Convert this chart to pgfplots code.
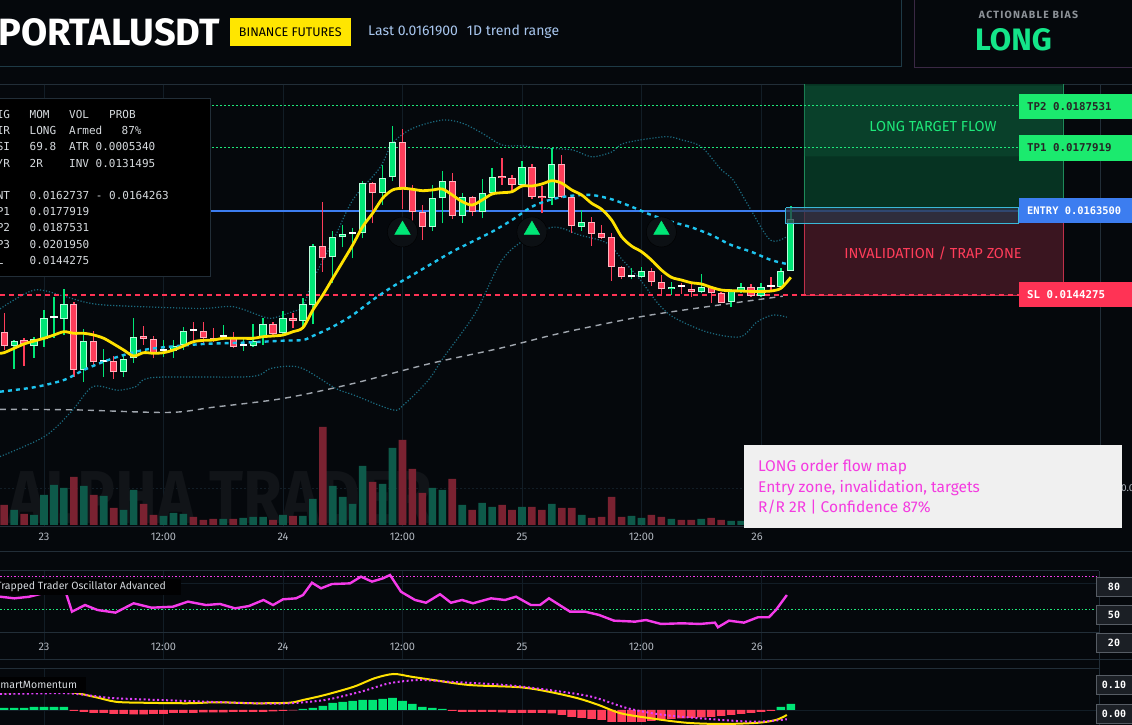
\documentclass[border=0pt]{standalone}
\usepackage{pgfplots}
\pgfplotsset{compat=1.18}
\usepackage{pgfplotstable}
\usepackage{fontspec}
\setmainfont{Fira Sans}
\newfontfamily\mono{DejaVu Sans Mono}
\newfontfamily\spacedfont[LetterSpace=12]{Fira Sans}

\definecolor{bg}{HTML}{05080C}
\definecolor{cgreen}{HTML}{00E676}
\definecolor{cred}{HTML}{FF3D5A}
\definecolor{cgreenL}{HTML}{B8FFDC}
\definecolor{credL}{HTML}{FFB4C0}
\definecolor{vgreen}{HTML}{0E5A4A}
\definecolor{vred}{HTML}{7A2231}
\definecolor{ema}{HTML}{FFE100}
\definecolor{cyanl}{HTML}{1EC3EE}
\definecolor{bband}{HTML}{1B6B80}
\definecolor{gridc}{HTML}{121D26}
\definecolor{sepline}{HTML}{222E38}
\definecolor{tpgreen}{HTML}{1EE87A}
\definecolor{entryblue}{HTML}{3C7DF0}
\definecolor{slred}{HTML}{FF3355}
\definecolor{magosc}{HTML}{F53BEA}
\definecolor{masig}{HTML}{E040FB}
\definecolor{grayma}{HTML}{A0A6AE}
\definecolor{zgreenT}{HTML}{0B4A30}
\definecolor{zgreenB}{HTML}{063322}
\definecolor{zgreenD}{HTML}{1E8A5A}
\definecolor{zred}{HTML}{3A1520}
\definecolor{zredD}{HTML}{C0304A}
\definecolor{entryfill}{HTML}{2C3646}
\definecolor{cyanbox}{HTML}{3AB8D8}
\definecolor{hdrline}{HTML}{1E3A46}
\definecolor{purpline}{HTML}{3A2844}
\definecolor{lastblue}{HTML}{A8C6EE}
\definecolor{ticktxt}{HTML}{B0B6BE}
\definecolor{tabtxt}{HTML}{D6DADE}
\definecolor{wmark}{HTML}{111418}
\definecolor{annot}{HTML}{F43BE0}
\definecolor{lblbox}{HTML}{1B1F25}
\definecolor{lblbord}{HTML}{565C64}
\definecolor{biasgreen}{HTML}{14E589}
\definecolor{yellowb}{HTML}{FFE600}
\definecolor{glow}{HTML}{0C1014}

% hourly candles: h = hours after day 23 00:00; prices in units of 0.001; v = volume (arbitrary units)
\pgfplotstableread{
h o hi lo c v
-4 13.588 14.023 13.169 13.261 20
-3 13.261 13.398 12.741 13.375 15
-2 13.391 13.437 12.803 13.307 11
-1 13.268 13.474 12.993 13.414 10
0 13.414 14.085 13.245 13.895 30
1 13.890 14.389 13.451 13.900 40
2 13.886 14.565 13.512 14.215 37
3 14.215 14.261 12.558 12.712 48
4 12.712 13.643 12.444 13.375 39
5 13.375 13.604 12.803 12.888 30
6 12.895 13.185 12.558 12.905 29
7 12.918 13.032 12.506 12.659 17
8 12.673 13.055 12.558 12.972 15
9 12.979 13.895 12.879 13.460 35
10 13.490 13.718 13.284 13.414 21
11 13.414 13.490 12.979 13.094 10
12 13.141 13.398 13.002 13.151 9
13 13.146 13.398 12.993 13.261 12
14 13.284 13.689 13.169 13.604 11
15 13.611 13.817 13.398 13.606 8
16 13.611 13.817 13.323 13.437 5
17 13.450 13.666 13.350 13.400 6
18 13.470 13.741 13.398 13.476 6
19 13.450 13.588 13.208 13.245 6
20 13.258 13.437 13.153 13.263 7
21 13.261 13.764 13.245 13.382 8
22 13.474 13.908 13.284 13.764 8
23 13.764 13.817 13.497 13.528 5
24 13.551 14.062 13.512 13.895 10
25 13.895 14.023 13.666 13.840 9
26 13.840 14.352 13.702 14.222 9
27 14.199 15.588 13.757 15.549 26
28 15.549 16.549 14.961 15.268 98
29 15.290 15.899 14.696 15.748 39
30 15.748 16.030 15.519 15.817 28
31 15.820 15.954 15.268 15.826 21
32 15.840 17.036 15.725 16.984 59
33 16.984 17.020 16.069 16.755 43
34 16.755 17.403 16.487 17.112 41
35 17.121 18.295 17.043 17.922 77
36 17.922 18.220 16.389 16.847 85
37 16.847 16.945 15.876 16.320 56
38 16.320 16.487 15.686 15.991 32
39 15.991 16.945 15.899 16.641 37
40 16.641 17.265 16.069 17.043 35
41 17.043 17.226 16.160 16.236 46
42 16.236 16.769 16.082 16.664 20
43 16.677 16.693 16.236 16.334 15
44 16.334 17.075 16.183 16.769 22
45 16.769 17.327 16.716 17.121 18
46 17.151 17.556 16.945 17.098 20
47 17.098 17.174 16.792 16.945 15
48 16.945 17.494 16.922 17.350 18
49 17.350 17.426 16.618 16.677 18
50 16.693 16.922 16.297 16.641 15
51 16.641 17.785 16.487 17.425 21
52 17.425 17.631 16.641 16.664 17
53 16.664 16.716 15.840 16.007 17
54 15.991 16.373 15.899 16.091 10
55 16.091 16.206 15.549 15.824 7
56 15.840 16.030 15.702 15.739 8
57 15.748 15.840 14.755 15.075 28
58 15.075 15.091 14.787 14.833 8
59 14.830 15.039 14.787 14.840 9
60 14.833 15.062 14.810 14.984 7
61 14.984 15.039 14.634 14.732 10
62 14.732 14.885 14.451 14.558 8
63 14.558 14.732 14.428 14.618 6
64 14.625 14.709 14.451 14.615 5
65 14.572 14.680 14.389 14.503 5
66 14.503 14.908 14.480 14.604 6
67 14.618 14.618 14.252 14.467 7
68 14.467 14.503 14.238 14.252 5
69 14.274 14.558 14.146 14.526 4
70 14.526 14.696 14.480 14.604 4
71 14.618 14.673 14.389 14.405 3
72 14.405 14.709 14.389 14.618 3
73 14.620 14.833 14.503 14.610 3
74 14.604 15.039 14.581 14.984 5
75 14.984 16.464 14.984 16.167 12
}\candles
% derived columns: wick length, body bottom, body height (min. 0.05), direction
\pgfplotstablecreatecol[create col/expr={\thisrow{hi}-\thisrow{lo}}]{wl}{\candles}
\pgfplotstablecreatecol[create col/expr={min(\thisrow{o},\thisrow{c})}]{bb}{\candles}
\pgfplotstablecreatecol[create col/expr={max(abs(\thisrow{c}-\thisrow{o}),0.05)}]{bh}{\candles}
\pgfplotstablecreatecol[create col/expr={\thisrow{c}-\thisrow{o}}]{dir}{\candles}

\pgfplotstableread{
h p
-4.42 13.094
-4 13.108
-3 13.208
-2 13.307
-1 13.375
0 13.437
1 13.512
2 13.588
3 13.551
4 13.551
5 13.512
6 13.437
7 13.307
8 13.169
9 13.032
10 13.108
11 13.094
12 13.108
13 13.169
14 13.261
15 13.359
16 13.390
17 13.398
18 13.437
19 13.437
20 13.437
21 13.437
22 13.474
23 13.490
24 13.512
25 13.588
26 13.680
27 14.085
28 14.428
29 14.810
30 15.190
31 15.572
32 15.991
33 16.297
34 16.641
35 16.831
36 16.869
37 16.847
38 16.815
39 16.831
40 16.853
41 16.716
42 16.563
43 16.487
44 16.602
45 16.739
46 16.769
47 16.792
48 16.922
49 16.922
50 16.968
51 17.043
52 16.984
53 16.831
54 16.716
55 16.526
56 16.389
57 16.144
58 15.762
59 15.549
60 15.419
61 15.229
62 15.000
63 14.833
64 14.771
65 14.709
66 14.680
67 14.604
68 14.542
69 14.526
70 14.519
71 14.510
72 14.510
73 14.519
74 14.581
75 14.833
}\emafast

\pgfplotstableread{
h p
-4.42 12.215
-1 12.316
2 12.483
4 12.712
6 12.902
8 13.055
10 13.169
12 13.231
16 13.307
20 13.337
24 13.382
26 13.398
27 13.490
29 13.702
31 13.970
33 14.313
35 14.618
37 14.885
39 15.153
41 15.419
43 15.648
45 15.876
47 16.144
49 16.448
51 16.618
53 16.700
55 16.716
57 16.618
59 16.448
61 16.258
63 16.105
65 15.977
67 15.801
69 15.572
71 15.419
73 15.229
74.6 15.137
}\emaslow

\pgfplotstableread{
h p
-4.42 14.11
-1 14.54
2 14.40
4 14.27
6 14.20
11 14.15
16 14.12
19 14.16
22 13.93
23 13.90
25 14.05
26 14.16
27 14.77
29 15.65
31 16.60
33.7 17.33
35 17.90
37 18.24
40 18.43
42 18.36
44 18.13
46 17.86
48 17.84
50 17.79
53 17.75
55 17.59
57 17.70
58 17.88
60 17.98
62.6 18.05
64 17.98
66 17.82
68 17.30
69.2 17.06
70.8 16.45
72.9 15.69
74.5 15.75
}\bbup

\pgfplotstableread{
h p
-4.42 10.73
0.06 11.19
2.75 11.76
4.9 12.33
7.4 12.25
9.2 12.33
11 12.54
20.7 12.56
22.8 12.75
25.7 12.77
29.3 12.29
31.1 12.14
35 11.80
36.1 11.91
38.6 12.48
40.1 12.99
43.3 14.01
45.8 15.16
47.8 15.62
51.1 15.98
53.8 15.80
56.5 15.62
58.1 15.23
59.9 14.77
61.6 14.25
63.2 13.92
66.6 13.58
69.9 13.47
71.6 13.81
73.2 13.97
74.6 13.92
}\bblow

\pgfplotstableread{
h p
-4.42 11.81
3 11.80
12.5 11.74
17 11.86
24 12.06
31 12.40
38.6 12.85
45.8 13.21
51.8 13.55
59.9 13.93
66.6 14.16
74.2 14.40
}\malong

\pgfplotstableread{
h v
-4.42 62.1
-2.97 60.6
-1.51 62
-0.10 65.2
2.11 68.2
2.81 48.5
4.12 54.5
5.37 50
7.18 47.6
9.0 56.1
10.8 52.1
12.95 53
14.46 57.6
16.27 54.5
17.67 55.5
19.18 51.5
20.58 53.6
22.04 59.1
23.0 54.5
24.0 59.7
25.3 60.6
26.01 63.6
26.91 74.8
27.82 69.7
28.92 73.6
30.73 74.2
31.83 80.3
32.94 75.8
34.04 78.8
34.75 81.8
35.85 66.6
37.26 59.1
38.36 56.6
39.77 64.3
40.87 56.6
41.98 59.1
43.08 56.1
44.89 60.6
46.3 59.1
47.4 62.1
48.9 54.5
49.81 54.5
50.71 60.6
52.82 48.5
54.33 48.5
55.73 45.5
57.24 40.3
59.35 39.4
60.45 40.9
61.96 37.3
64.07 37.9
65.87 37.3
67.38 38.5
67.68 34.3
68.79 40.3
70.29 38.5
71.7 43.4
72.8 43.4
73.5 50
74.6 63.6
}\osc

\pgfplotstableread{
h m
-4 0.008
-3 0.008
-2 0.008
-1 0.012
0 0.012
1 0.012
2 0.012
3 -0.004
4 -0.008
5 -0.012
6 -0.012
7 -0.016
8 -0.016
9 -0.018
10 -0.018
11 -0.016
12 -0.016
13 -0.012
14 -0.012
15 -0.012
16 -0.010
17 -0.010
18 -0.010
19 -0.008
20 -0.008
21 -0.008
22 -0.008
23 -0.006
24 -0.004
25 -0.002
26 0.004
27 0.008
28 0.016
29 0.028
30 0.032
31 0.036
32 0.040
33 0.040
34 0.044
35 0.048
36 0.036
37 0.024
38 0.012
39 0.008
40 0.004
41 -0.004
42 -0.008
43 -0.008
44 -0.008
45 -0.008
46 -0.010
47 -0.012
48 -0.012
49 -0.012
50 -0.012
51 -0.014
52 -0.020
53 -0.028
54 -0.032
55 -0.036
56 -0.040
57 -0.048
58 -0.048
59 -0.048
60 -0.048
61 -0.044
62 -0.040
63 -0.036
64 -0.034
65 -0.032
66 -0.030
67 -0.028
68 -0.024
69 -0.020
70 -0.016
71 -0.012
72 -0.008
73 -0.004
74 0.012
75 0.024
}\hist

\pgfplotstableread{
h m
-4.42 0.071
2.1 0.073
5 0.053
7.2 0.033
10 0.029
14.5 0.027
17.4 0.031
21 0.027
24.6 0.029
26 0.040
28.2 0.060
31.1 0.093
33.2 0.127
35.1 0.144
36.9 0.133
39.1 0.120
42.7 0.100
47.8 0.091
50.7 0.073
53.6 0.047
55.7 0.020
57.9 -0.013
60.9 -0.033
64.5 -0.051
68.1 -0.056
71.7 -0.051
73.5 -0.040
74.6 -0.020
}\mom

\pgfplotstableread{
h m
-4.42 0.064
2.1 0.067
5 0.056
7.2 0.047
13.7 0.037
21 0.027
24.6 0.027
28.2 0.040
31.8 0.073
34.7 0.107
37.7 0.120
40.6 0.113
46.3 0.100
50.7 0.080
55 0.053
58.6 0.007
62.3 -0.020
68.1 -0.040
71.7 -0.047
74.6 -0.037
}\momsig

\pgfplotsset{panel/.style={scale only axis, width=1132pt, xmin=-4.4186, xmax=109.26, hide axis, clip=true, anchor=south west}}
\tikzset{px/.style={x=1pt, y=-1pt, shift={(0pt,725pt)}}}

\begin{document}
\begin{tikzpicture}
\useasboundingbox (0pt,0pt) rectangle (1132pt,725pt);
\clip (0pt,0pt) rectangle (1132pt,725pt);
\fill[bg] (0pt,0pt) rectangle (1132pt,725pt);

\begin{scope}[px]
  % header frames
  \draw[hdrline, line width=1pt] (-1,66.7) -- (901,66.7) -- (901,-1);
  \draw[purpline, line width=1pt] (914,-1) -- (914,67.7) -- (1133,67.7);
  \draw[sepline, line width=0.8pt] (0,84.5) -- (1132,84.5);
  % grid
  \foreach \gx in {44,163.5,283,402.5,522,641.5,761} {
    \draw[gridc, line width=1pt] (\gx,85) -- (\gx,526);
    \draw[gridc, line width=1pt] (\gx,571) -- (\gx,659);
    \draw[gridc, line width=1pt] (\gx,668) -- (\gx,725);
  }
  \draw[sepline, line width=0.8pt] (1100,85) -- (1100,526);
  \draw[gridc, line width=0.8pt, dash pattern=on 2pt off 2pt] (0,488) -- (1100,488);
  \node[anchor=west, inner sep=0pt, font=\fontsize{10}{10}\selectfont, color=ticktxt] at (1121,488) {0.0100};
  % separators
  \draw[sepline, line width=0.8pt] (0,526) -- (1100,526);
  \draw[sepline, line width=0.8pt] (0,551.7) -- (1132,551.7);
  \draw[sepline, line width=0.8pt] (0,570.7) -- (1099,570.7);
  \draw[sepline, line width=0.8pt] (0,632.7) -- (1099,632.7);
  \draw[gridc, line width=0.8pt] (0,583.3) -- (1099,583.3);
  \draw[sepline, line width=0.8pt] (0,659.3) -- (1132,659.3);
  \draw[sepline, line width=0.8pt] (0,668.3) -- (1099,668.3);
  \draw[sepline, line width=0.8pt] (1099,570.7) -- (1099,725);
  \draw[gridc, line width=0.8pt] (0,710.7) -- (1099,710.7);
  % oscillator levels
  \draw[magosc, line width=1pt, dash pattern=on 1.5pt off 2pt] (0,576.7) -- (1097,576.7);
  \draw[tpgreen, line width=1pt, dash pattern=on 1.5pt off 2pt] (0,610) -- (1097,610);
  % watermark
  \node[anchor=base west, font=\fontsize{75}{75}\bfseries\selectfont, color=wmark, inner sep=0pt, text height=52pt, text depth=0pt] at (8,524) {\scalebox{0.84}[1]{ALPHA TRADER}};
\end{scope}

% ---------- volume ----------
\begin{axis}[panel, height=440pt, at={(0pt,200pt)}, ymin=0, ymax=440]
\addplot[ybar, bar width=7.6pt, bar shift=0pt, fill=vgreen, draw=none,
  restrict expr to domain={\thisrow{dir}}{0:100}] table[x=h, y=v] {\candles};
\addplot[ybar, bar width=7.6pt, bar shift=0pt, fill=vred, draw=none,
  restrict expr to domain={\thisrow{dir}}{-100:-0.0001}] table[x=h, y=v] {\candles};
\end{axis}

% ---------- price ----------
\begin{axis}[panel, height=440pt, at={(0pt,200pt)}, ymin=9.1648, ymax=19.2333]
% zones
\addplot[draw=zgreenD, line width=0.8pt, fill=zgreenB] coordinates {(76.32,19.26) (102.33,19.26) (102.33,16.35) (76.32,16.35) (76.32,19.26)};
\addplot[draw=none, fill=zgreenT, fill opacity=0.6] coordinates {(76.38,19.22) (102.27,19.22) (102.27,17.6) (76.38,17.6) (76.38,19.22)};
\addplot[draw=zredD, line width=0.8pt, fill=zred] coordinates {(76.32,16.35) (102.33,16.35) (102.33,14.4275) (76.32,14.4275) (76.32,16.35)};
% bands and averages
\addplot[bband, line width=1.2pt, dash pattern=on 1.2pt off 1.8pt, smooth] table[x=h,y=p] {\bbup};
\addplot[bband, line width=1.2pt, dash pattern=on 1.2pt off 1.8pt, smooth] table[x=h,y=p] {\bblow};
\addplot[grayma, line width=1.4pt, dash pattern=on 6pt off 5pt, smooth] table[x=h,y=p] {\malong};
% level lines
\addplot[tpgreen, line width=1pt, dash pattern=on 2pt off 2pt] coordinates {(-4.42,18.7531) (97.91,18.7531)};
\addplot[tpgreen, line width=1pt, dash pattern=on 2pt off 2pt] coordinates {(-4.42,17.7919) (97.91,17.7919)};
\addplot[slred, line width=2pt, dash pattern=on 5pt off 4pt] coordinates {(-4.42,14.4275) (97.91,14.4275)};
\addplot[entryblue, line width=1.8pt] coordinates {(-4.42,16.35) (97.91,16.35)};
% signal glow
\addplot[only marks, mark=*, mark size=15pt, mark options={draw=none, fill=glow}] coordinates {(36,15.87) (49,15.87) (62,15.87)};
% candle wicks (segments from low to high)
\addplot[draw=cgreen, line width=1.3pt, restrict expr to domain={\thisrow{dir}}{0:100},
  quiver={u=0, v=\thisrow{wl}, every arrow/.append style={-}}] table[x=h, y=lo] {\candles};
\addplot[draw=cred, line width=1.3pt, restrict expr to domain={\thisrow{dir}}{-100:-0.0001},
  quiver={u=0, v=\thisrow{wl}, every arrow/.append style={-}}] table[x=h, y=lo] {\candles};
% candle bodies (border, then fill)
\addplot[draw=cgreenL, line width=7.2pt, restrict expr to domain={\thisrow{dir}}{0:100},
  quiver={u=0, v=\thisrow{bh}, every arrow/.append style={-}}] table[x=h, y=bb] {\candles};
\addplot[draw=cgreen, line width=5.2pt, restrict expr to domain={\thisrow{dir}}{0:100},
  quiver={u=0, v=\thisrow{bh}, every arrow/.append style={-, shorten <=1pt, shorten >=1pt}}] table[x=h, y=bb] {\candles};
\addplot[draw=credL, line width=7.2pt, restrict expr to domain={\thisrow{dir}}{-100:-0.0001},
  quiver={u=0, v=\thisrow{bh}, every arrow/.append style={-}}] table[x=h, y=bb] {\candles};
\addplot[draw=cred, line width=5.2pt, restrict expr to domain={\thisrow{dir}}{-100:-0.0001},
  quiver={u=0, v=\thisrow{bh}, every arrow/.append style={-, shorten <=1pt, shorten >=1pt}}] table[x=h, y=bb] {\candles};
% doji (white)
\addplot[draw=white, line width=7.2pt, restrict expr to domain={abs(\thisrow{dir})}{0:0.03},
  quiver={u=0, v=\thisrow{bh}, every arrow/.append style={-}}] table[x=h, y=bb] {\candles};
% moving averages
\addplot[cyanl, line width=2.4pt, dash pattern=on 4pt off 4pt, smooth] table[x=h,y=p] {\emaslow};
\addplot[ema, line width=2.8pt, smooth, tension=0.5] table[x=h,y=p] {\emafast};
% entry range box
\addplot[draw=cyanbox, line width=1pt, fill=entryfill, fill opacity=0.75] coordinates {(74.51,16.4263) (97.91,16.4263) (97.91,16.075) (74.51,16.075) (74.51,16.4263)};
% signal triangles
\addplot[only marks, mark=triangle*, mark size=9pt, mark options={draw=cgreen, fill=cgreen}] coordinates {(36,15.915) (49,15.915) (62,15.915)};
\end{axis}

% ---------- oscillator ----------
\begin{axis}[panel, height=88pt, at={(0pt,66pt)}, ymin=5.45, ymax=85.45]
\addplot[magosc, line width=2.4pt] table[x=h,y=v] {\osc};
\end{axis}

% ---------- momentum ----------
\begin{axis}[panel, height=57pt, at={(0pt,0pt)}, ymin=-0.06, ymax=0.168]
\addplot[ybar, bar width=8.6pt, bar shift=0pt, fill=cgreen, draw=none,
  restrict expr to domain={\thisrow{m}}{0:1}] table[x=h, y=m] {\hist};
\addplot[ybar, bar width=8.6pt, bar shift=0pt, fill=cred, draw=none,
  restrict expr to domain={\thisrow{m}}{-1:-0.0001}] table[x=h, y=m] {\hist};
\addplot[ema, line width=2pt, smooth] table[x=h,y=m] {\mom};
\addplot[masig, line width=2pt, dash pattern=on 2pt off 2.5pt, smooth] table[x=h,y=m] {\momsig};
\end{axis}

\begin{scope}[px]
  % header
  \node[anchor=west, inner sep=0pt, font=\fontsize{38}{38}\bfseries\selectfont, white] at (-2,32) {PORTALUSDT};
  \fill[yellowb] (230,18) rectangle (350.5,46);
  \node[font=\fontsize{12.5}{12.5}\selectfont, black] at (290.3,32) {BINANCE FUTURES};
  \node[anchor=west, inner sep=0pt, font=\fontsize{14}{14}\selectfont, color=lastblue] at (368,32) {Last 0.0161900\hspace{9pt}1D trend range};
  \node[font=\spacedfont\fontsize{10.5}{10.5}\bfseries\selectfont, color=ticktxt!80!black] at (1028.5,15) {ACTIONABLE BIAS};
  \node[font=\fontsize{31}{31}\bfseries\selectfont, color=biasgreen] at (1013.5,40) {LONG};

  % stats table
  \fill[black] (-1,98.7) rectangle (210,277);
  \draw[sepline, line width=1pt] (-1,98.7) -- (210,98.7) -- (210,277) -- (-1,277);
  \begin{scope}[every node/.style={anchor=base west, inner sep=0pt, font=\mono\fontsize{11}{11}\selectfont, color=tabtxt}]
    \node at (-10,119) {SIG}; \node at (29.5,119) {MOM}; \node at (69,119) {VOL}; \node at (109,119) {PROB};
    \node at (-10,135) {DIR}; \node at (29.5,135) {LONG}; \node at (69,135) {Armed}; \node at (121.5,135) {87\%};
    \node at (-10,151) {RSI}; \node at (29.5,151) {69.8}; \node at (69,151) {ATR 0.0005340};
    \node at (-10,168) {R/R}; \node at (29.5,168) {2R}; \node at (69,168) {INV 0.0131495};
    \node at (-10,200) {ENT}; \node at (29.5,200) {0.0162737 - 0.0164263};
    \node at (-10,216) {TP1}; \node at (29.5,216) {0.0177919};
    \node at (-10,232) {TP2}; \node at (29.5,232) {0.0187531};
    \node at (-10,249) {TP3}; \node at (29.5,249) {0.0201950};
    \node at (-10,265) {SL}; \node at (29.5,265) {0.0144275};
  \end{scope}

  % zone captions
  \node[font=\fontsize{14.5}{14.5}\selectfont, color=tpgreen] at (933,127) {LONG TARGET FLOW};
  \node[font=\fontsize{14.5}{14.5}\selectfont, color=cred] at (933,253) {INVALIDATION / TRAP ZONE};

  % right price tags
  \fill[tpgreen!90!green] (1019,94) rectangle (1132,119);
  \node[anchor=west, inner sep=0pt, font=\mono\fontsize{10.8}{10.8}\bfseries\selectfont, color=black!85] at (1027,106.5) {TP2 0.0187531};
  \fill[tpgreen!90!green] (1019,135) rectangle (1132,161);
  \node[anchor=west, inner sep=0pt, font=\mono\fontsize{10.8}{10.8}\bfseries\selectfont, color=black!85] at (1027,148) {TP1 0.0177919};
  \fill[entryblue] (1019,198) rectangle (1132,223);
  \node[anchor=west, inner sep=0pt, font=\mono\fontsize{10.4}{10.4}\bfseries\selectfont, color=white] at (1027,211) {ENTRY 0.0163500};
  \fill[slred] (1019,282) rectangle (1132,307);
  \node[anchor=west, inner sep=0pt, font=\mono\fontsize{10.8}{10.8}\bfseries\selectfont, color=white] at (1027,295) {SL 0.0144275};

  % x tick labels
  \foreach \gx/\lab in {44/23,163.5/12:00,283/24,402.5/12:00,522/25,641.5/12:00,757/26} {
    \node[font=\fontsize{11}{11}\selectfont, color=ticktxt] at (\gx,537) {\lab};
    \node[font=\fontsize{11}{11}\selectfont, color=ticktxt] at (\gx,647) {\lab};
  }

  % annotation box
  \fill[white!94!black] (743.5,445) rectangle (1122,528);
  \begin{scope}[every node/.style={anchor=base west, inner sep=0pt, font=\fontsize{15.5}{15.5}\selectfont, color=annot}]
    \node at (758,471.5) {LONG order flow map};
    \node at (758,492.5) {Entry zone, invalidation, targets};
    \node at (758,512.5) {R/R 2R | Confidence 87\%};
  \end{scope}

  % panel titles
  \fill[black!85!bg] (-1,579) rectangle (181,595);
  \node[anchor=west, inner sep=0pt, font=\fontsize{10.5}{10.5}\selectfont, color=tabtxt] at (-4,587) {Trapped Trader Oscillator Advanced};
  \fill[black!85!bg] (-1,677) rectangle (86,693);
  \node[anchor=west, inner sep=0pt, font=\fontsize{10.5}{10.5}\selectfont, color=tabtxt] at (-5.5,685) {SmartMomentum};

  % right scale tags
  \foreach \ty/\tl in {587/80,615/50,643/20,685/0.10,714/0.00} {
    \filldraw[fill=lblbox, draw=lblbord, line width=0.8pt] (1096,\ty-9.5) rectangle (1135,\ty+9.5);
    \node[font=\mono\fontsize{10}{10}\bfseries\selectfont, color=white] at (1114,\ty) {\tl};
  }
\end{scope}
\end{tikzpicture}
\end{document}
